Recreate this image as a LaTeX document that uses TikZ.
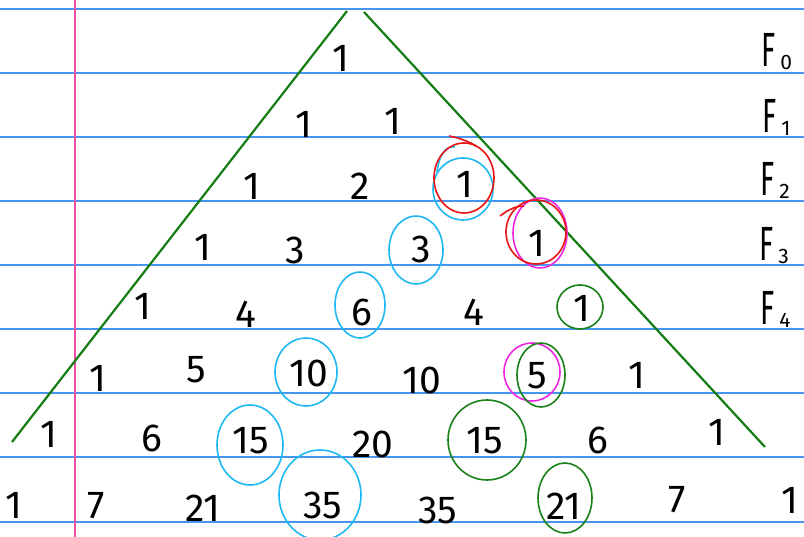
\documentclass[tikz,border=0pt]{standalone}
\usepackage{fontspec}
\setmainfont{Fira Sans}
\definecolor{ruleblue}{RGB}{70,150,240}
\definecolor{marginpink}{RGB}{236,80,160}
\definecolor{tri}{RGB}{20,125,20}
\definecolor{cblue}{RGB}{30,185,240}
\definecolor{cred}{RGB}{235,20,20}
\definecolor{cmag}{RGB}{235,40,225}
\definecolor{cgreen}{RGB}{25,130,25}
\newcommand{\flabel}[1]{\scalebox{0.6}[1]{F}\hspace{5pt}\raisebox{-3pt}{\fontsize{21}{21}\selectfont #1}}
\tikzset{
  num/.style={inner sep=0pt, font=\fontsize{39}{39}\selectfont},
  lbl/.style={inner sep=0pt, anchor=base west, font=\fontsize{48}{48}\selectfont},
  ruleline/.style={draw=ruleblue, line width=2pt},
  ring/.style={line width=1.6pt},
}
\begin{document}
\begin{tikzpicture}[x=1pt,y=-1pt]
\useasboundingbox[fill=white] (0,0) rectangle (804,537);
% ruled lines
\foreach \k in {0,...,8} {\draw[ruleline] (0,{9.5+64*\k}) -- (804,{9.5+64*\k});}
\draw[draw=marginpink, line width=2.6pt] (75,0) -- (75,537);
% numbers
\node[num] (a0) at (341,58) {1};
\node[num] (b0) at (304,124) {1};
\node[num] (b1) at (393,121) {1};
\node[num] (c0) at (252,186) {1};
\node[num] (c1) at (360,186) {2};
\node[num] (c2) at (465,184) {1};
\node[num] (d0) at (203,247) {1};
\node[num] (d1) at (295,250) {3};
\node[num] (d2) at (421,249) {3};
\node[num] (d3) at (537,243) {1};
\node[num] (e0) at (143,306) {1};
\node[num] (e1) at (246,314) {4};
\node[num] (e2) at (362,312) {6};
\node[num] (e3) at (474,312) {4};
\node[num] (e4) at (582,308) {1};
\node[num] (f0) at (98,378) {1};
\node[num] (f1) at (196,370) {5};
\node[num] (f2) at (309,373) {10};
\node[num] (f3) at (422,380) {10};
\node[num] (f4) at (537,376) {5};
\node[num] (f5) at (637,375) {1};
\node[num] (g0) at (49,434) {1};
\node[num] (g1) at (152,438) {6};
\node[num] (g2) at (251,441) {15};
\node[num] (g3) at (373,444) {20};
\node[num] (g4) at (485,441) {15};
\node[num] (g5) at (598,440) {6};
\node[num] (g6) at (717,432) {1};
\node[num] (h0) at (14,505) {1};
\node[num] (h1) at (96,506) {7};
\node[num] (h2) at (203,508) {21};
\node[num] (h3) at (323,505) {35};
\node[num] (h4) at (438,510) {35};
\node[num] (h5) at (564,506) {21};
\node[num] (h6) at (677,500) {7};
\node[num] (h7) at (790,500) {1};
% F labels
\node[lbl] (F0) at (761,67) {\flabel{0}};
\node[lbl] (F1) at (762,133) {\flabel{1}};
\node[lbl] (F2) at (760,196) {\flabel{2}};
\node[lbl] (F3) at (759,261) {\flabel{3}};
\node[lbl] (F4) at (760,325) {\flabel{4}};
% triangle sides
\draw[draw=tri, line width=2.2pt] (12,442) -- (347,11);
\draw[draw=tri, line width=2.2pt] (364,12) -- (765,447);
% rings
\draw[ring, cblue] (463,189) ellipse [x radius=30, y radius=31];
\draw[ring, cblue] (437,172) .. controls (440,150) and (448,146) .. (455,147);
\draw[ring, cred] (464,178) ellipse [x radius=30, y radius=35];
\draw[ring, cred] (449,136) .. controls (460,138) and (470,142) .. (476,146);
\draw[ring, cblue] (416,250) ellipse [x radius=27, y radius=34];
\draw[ring, cblue] (360,305) ellipse [x radius=25, y radius=33];
\draw[ring, cblue] (306,372) ellipse [x radius=31, y radius=34];
\draw[ring, cblue] (250,445) ellipse [x radius=33, y radius=40];
\draw[ring, cblue] (320,495) ellipse [x radius=41, y radius=45];
\draw[ring, cmag] (540,233) ellipse [x radius=27, y radius=35];
\draw[ring, cred] (536,232) ellipse [x radius=30, y radius=32];
\draw[ring, cred] (500,216) .. controls (508,210) and (515,206) .. (524,206);
\draw[ring, cgreen] (580,307) ellipse [x radius=23, y radius=22];
\draw[ring, cmag] (532,372) ellipse [x radius=28, y radius=29];
\draw[ring, cgreen] (541,375) ellipse [x radius=24, y radius=32];
\draw[ring, cgreen] (487,440) ellipse [x radius=39, y radius=40];
\draw[ring, cgreen] (565,498) ellipse [x radius=27, y radius=35];
\end{tikzpicture}
\end{document}
